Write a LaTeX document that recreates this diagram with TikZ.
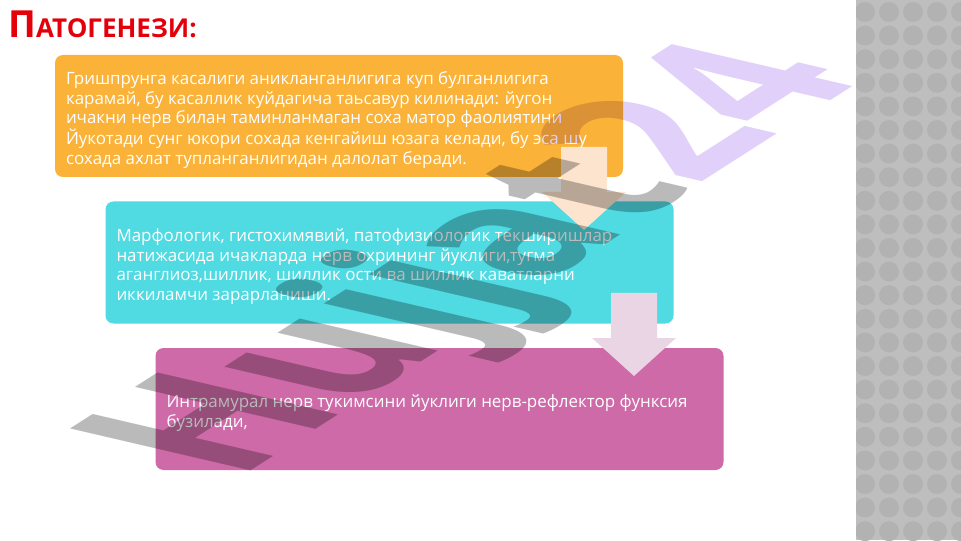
\documentclass[tikz,border=0pt]{standalone}
\usepackage{fontspec}
\setmainfont{Open Sans}
\usetikzlibrary{positioning}
\usepackage{xcolor}

\definecolor{boxorange}{RGB}{250,178,56}
\definecolor{boxcyan}{RGB}{80,218,226}
\definecolor{boxpink}{RGB}{206,106,168}
\definecolor{titlered}{RGB}{228,0,10}
\definecolor{arrowpeach}{RGB}{252,228,207}
\definecolor{arrowlilac}{RGB}{234,213,228}
\definecolor{stripgray}{RGB}{190,190,190}
\definecolor{dotgray}{RGB}{178,178,178}
\definecolor{markgray}{RGB}{186,186,186}
\definecolor{marklilac}{RGB}{224,208,250}

% box text, set a little below the middle of its box
\newcommand{\boxtext}[1]{\raisebox{-3pt}[\height][\depth]{\parbox{409.5pt}{\raggedright #1}}}

\tikzset{
  textbox/.style={rounded corners=6pt, inner xsep=8.25pt, inner ysep=0pt,
    minimum width=426pt, minimum height=91.5pt, align=left, text=white,
    font=\fontsize{12.7}{14.6}\selectfont}
}

\begin{document}
\begin{tikzpicture}[x=0.75pt, y=0.75pt]
\useasboundingbox (0,0) rectangle (961,540);
\fill[white] (0,0) rectangle (961,540);

% grey strip with dots on the right
\begin{scope}
\clip (856,0) rectangle (961,540);
\fill[stripgray] (856,0) rectangle (961,540);
\foreach \i in {0,...,4}
  \foreach \j in {0,...,23}
    \fill[dotgray] (865+24*\i, 528-23.6*\j) circle (10);
\end{scope}

% title
\node[anchor=base west, inner sep=0pt, text=titlered] (title) at (8,502)
  {\bfseries{\fontsize{28}{30}\selectfont П}{\fontsize{19.5}{22}\selectfont АТОГЕНЕЗИ:}};

% the three boxes
\node[textbox, fill=boxorange] (cause) at (339,424)
  {\boxtext{Гришпрунга касалиги аникланганлигига куп булганлигига\\
   карамай, бу касаллик куйдагича таьсавур килинади: йугон\\
   ичакни нерв билан таминланмаган соха матор фаолиятини\\
   Йукотади сунг юкори сохада кенгайиш юзага келади, бу эса шу\\
   сохада ахлат тупланганлигидан далолат беради.}};
\node[textbox, fill=boxcyan] (findings) at (389.5,277.5)
  {\boxtext{Марфологик, гистохимявий, патофизиологик текширишлар\\
   натижасида ичакларда нерв охрининг йуклиги,тугма\\
   аганглиоз,шиллик, шиллик ости ва шиллик каватларни\\
   иккиламчи зарарланиши.}};
\node[textbox, fill=boxpink] (result) at (439.5,131)
  {\boxtext{Интрамурал нерв тукимсини йуклиги нерв-рефлектор функсия\\
   бузилади,}};

% block arrows between the boxes
\foreach \cx/\ty/\col in {584/393/arrowpeach, 634/247/arrowlilac}
  \fill[\col] (\cx-23,\ty) -- (\cx+23,\ty) -- (\cx+23,\ty-45) -- (\cx+42,\ty-45)
    -- (\cx,\ty-83) -- (\cx-42,\ty-45) -- (\cx-23,\ty-45) -- cycle;

% watermark
\begin{scope}[blend mode=multiply, cm={1.122,0.718,-1.896,0.441,(237,60)}]
\node[transform shape, anchor=base west, inner sep=0pt,
  font=\bfseries\fontsize{100}{100}\selectfont] (mark) at (0,0)
  {\textcolor{markgray}{Hujjat}\textcolor{marklilac}{24}};
\end{scope}
\end{tikzpicture}
\end{document}
